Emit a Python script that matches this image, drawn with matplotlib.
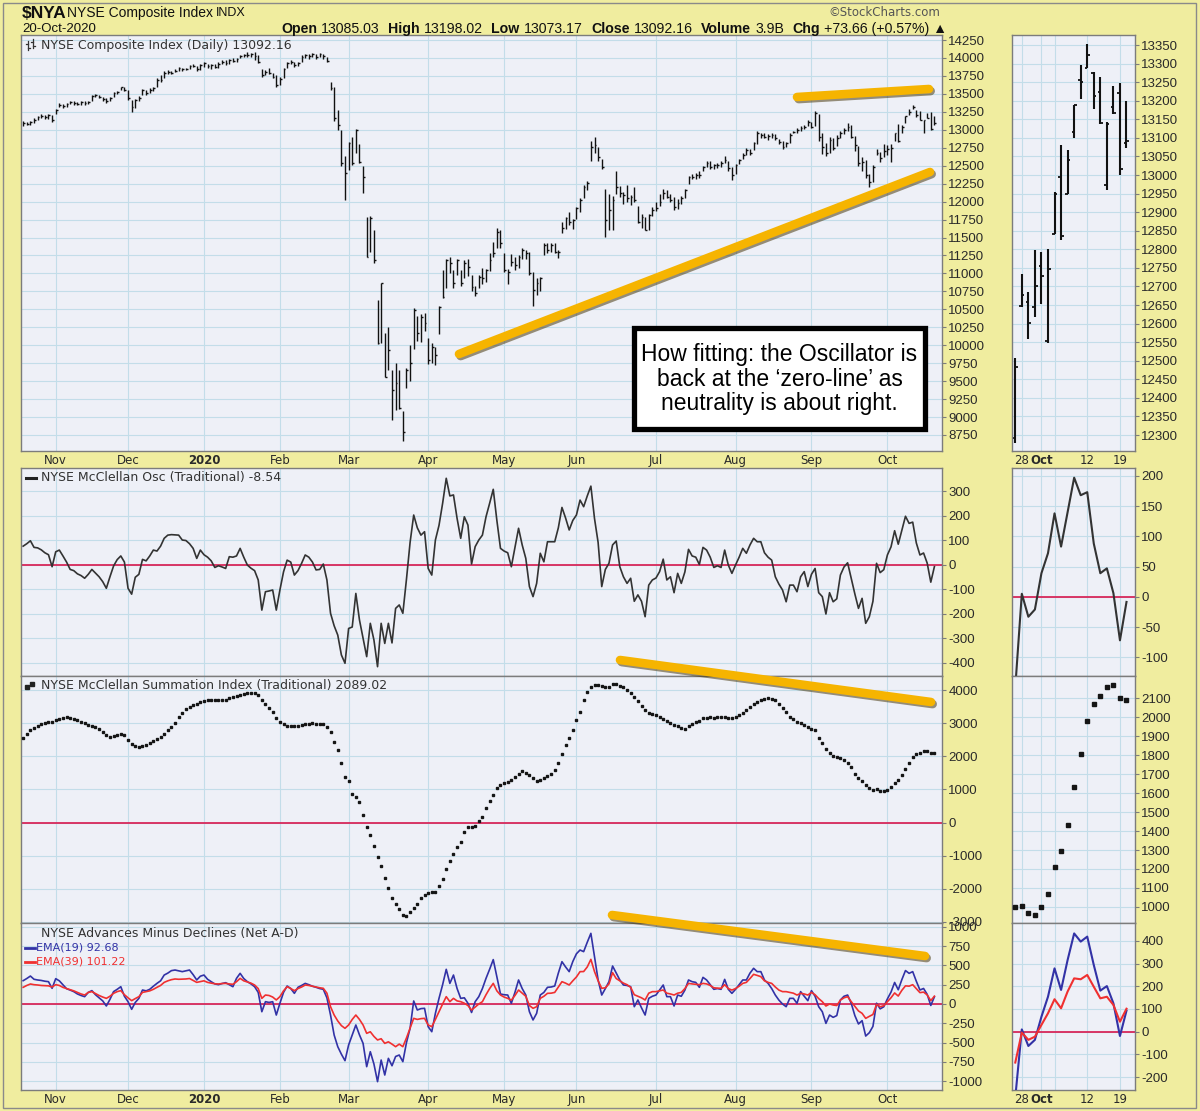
import numpy as np
import pandas as pd
import matplotlib
matplotlib.use('Agg')
import matplotlib.pyplot as plt
import matplotlib.patheffects as pe
from matplotlib.lines import Line2D
from matplotlib.patches import Rectangle
from matplotlib.text import Annotation

# ============================================================
# DATA (one value per session)
# ============================================================
first_day = '2019-10-21'
last_day = '2020-10-20'
nyse_holidays = ['2019-11-28', '2019-12-25', '2020-01-01', '2020-01-20', '2020-02-17',
                 '2020-04-10', '2020-05-25', '2020-07-03', '2020-09-07']

nya_close = [
    13090, 13080, 13110, 13135, 13180, 13190, 13175, 13205, 13140, 13275,
    13345, 13330, 13360, 13390, 13380, 13360, 13390, 13370, 13390, 13470,
    13485, 13460, 13425, 13405, 13440, 13510, 13530, 13590, 13555, 13440,
    13315, 13415, 13440, 13555, 13518, 13555, 13580, 13695, 13695, 13797,
    13810, 13797, 13825, 13857, 13843, 13843, 13890, 13890, 13843, 13903,
    13927, 13890, 13903, 13880, 13917, 13950, 13927, 13973, 13964, 13982,
    14029, 14043, 14043, 14057, 14029, 13950, 13764, 13810, 13787, 13741,
    13625, 13704, 13843, 13927, 13950, 13903, 13936, 14020, 14043, 14029,
    14057, 14020, 14057, 14029, 13964, 13578, 13161, 13068, 12534, 12395,
    12812, 12534, 13000, 12557, 12348, 11234, 11768, 11188, 10027, 10862,
    9563, 9934, 9377, 9470, 9121, 8796, 9655, 9748, 10491, 10166,
    10398, 10305, 9795, 9980, 9864, 10537, 10677, 11188, 11141, 10862,
    11188, 10862, 11141, 11094, 10816, 10723, 10955, 10932, 11048, 11187,
    11280, 11582, 11420, 11048, 11025, 11164, 11118, 11234, 11327, 11280,
    11002, 10770, 10862, 10932, 11396, 11327, 11396, 11303, 11303, 11628,
    11768, 11721, 11744, 11907, 12023, 12209, 12255, 12766, 12789, 12627,
    12487, 11750, 11884, 12023, 12209, 12116, 12093, 12046, 12070, 12023,
    11721, 11791, 11605, 11814, 11884, 11907, 12000, 12116, 12070, 12023,
    11930, 11977, 12046, 12162, 12348, 12348, 12371, 12371, 12487, 12534,
    12487, 12510, 12510, 12534, 12580, 12464, 12371, 12510, 12580, 12650,
    12720, 12673, 12812, 12952, 12928, 12905, 12915, 12928, 12882, 12836,
    12766, 12812, 12928, 12975, 13000, 13021, 13045, 13114, 13045, 13230,
    12905, 12766, 12673, 12860, 12743, 12882, 12952, 13000, 13045, 12905,
    12789, 12534, 12557, 12371, 12278,
    12482, 12677, 12601, 12701, 12727, 12747, 12950, 12837, 13041, 13188,
    13251, 13323, 13212, 13139, 13137, 13166, 13017, 13092.16,
]
nya_high = [
    13120, 13115, 13125, 13160, 13195, 13215, 13200, 13215, 13200, 13290,
    13370, 13360, 13380, 13405, 13395, 13385, 13400, 13395, 13405, 13480,
    13500, 13490, 13460, 13440, 13455, 13520, 13545, 13600, 13590, 13560,
    13420, 13430, 13470, 13565, 13560, 13575, 13600, 13720, 13760, 13815,
    13835, 13820, 13840, 13870, 13865, 13860, 13900, 13915, 13895, 13915,
    13945, 13920, 13915, 13920, 13950, 13970, 13975, 13985, 13995, 14000,
    14040, 14060, 14080, 14070, 14090, 14040, 13840, 13830, 13860, 13790,
    13760, 13740, 13860, 13945, 13965, 13945, 13950, 14040, 14060, 14055,
    14070, 14060, 14075, 14060, 14010, 13660, 13600, 13280, 13000, 12630,
    12830, 12900, 13005, 12800, 12500, 11790, 11800, 11600, 10630, 10870,
    10170, 10250, 9660, 9750, 9660, 9080, 9680, 10000, 10520, 10400,
    10430, 10450, 10100, 10030, 9980, 10550, 11050, 11200, 11230, 11050,
    11200, 11050, 11180, 11200, 10980, 10820, 10980, 11080, 11060, 11280,
    11440, 11630, 11600, 11280, 11060, 11270, 11230, 11260, 11350, 11320,
    11300, 11020, 10930, 10950, 11420, 11430, 11420, 11420, 11320, 11720,
    11790, 11860, 11760, 11920, 12050, 12230, 12290, 12850, 12900, 12760,
    12600, 12180, 12100, 12080, 12420, 12220, 12140, 12230, 12090, 12200,
    11940, 11830, 11790, 11830, 11920, 11990, 12100, 12180, 12160, 12100,
    12060, 12040, 12080, 12180, 12360, 12380, 12400, 12420, 12500, 12560,
    12560, 12530, 12540, 12560, 12640, 12560, 12480, 12530, 12600, 12670,
    12740, 12730, 12830, 12990, 12960, 12950, 12940, 12960, 12940, 12870,
    12850, 12830, 12950, 12985, 13020, 13050, 13060, 13130, 13110, 13260,
    13220, 12950, 12820, 12900, 12890, 12930, 12980, 13020, 13090, 13060,
    12910, 12780, 12620, 12580, 12380,
    12507, 12734, 12684, 12797, 12792, 12801, 12954, 13080, 13068, 13188,
    13296, 13352, 13278, 13263, 13143, 13239, 13247, 13198.02,
]
nya_low = [
    13050, 13060, 13070, 13100, 13130, 13170, 13150, 13150, 13110, 13220,
    13320, 13300, 13320, 13360, 13350, 13340, 13350, 13340, 13360, 13400,
    13460, 13440, 13400, 13380, 13400, 13450, 13500, 13550, 13540, 13420,
    13250, 13310, 13400, 13480, 13490, 13510, 13540, 13600, 13660, 13720,
    13780, 13770, 13800, 13820, 13820, 13830, 13840, 13870, 13820, 13830,
    13880, 13860, 13850, 13860, 13860, 13920, 13900, 13920, 13940, 13950,
    14000, 14010, 14010, 14020, 13970, 13930, 13740, 13760, 13770, 13720,
    13600, 13630, 13720, 13860, 13920, 13880, 13890, 13950, 14000, 13990,
    14010, 13980, 14010, 13990, 13940, 13560, 13120, 13000, 12500, 12020,
    12440, 12510, 12680, 12540, 12120, 11230, 11300, 11150, 10020, 10030,
    9560, 9650, 8960, 9100, 9110, 8660, 9400, 9500, 9950, 10060,
    10050, 10200, 9740, 9750, 9720, 10150, 10660, 10800, 11000, 10800,
    10980, 10830, 10930, 10960, 10760, 10680, 10800, 10850, 10880, 11040,
    11230, 11350, 11350, 11020, 10850, 11100, 11050, 11080, 11200, 11200,
    10980, 10540, 10700, 10760, 11250, 11280, 11300, 11280, 11220, 11560,
    11620, 11680, 11620, 11760, 11860, 12050, 12160, 12560, 12680, 12570,
    12460, 11510, 11600, 11600, 12100, 12060, 11960, 11990, 11950, 11990,
    11700, 11630, 11600, 11610, 11800, 11870, 11940, 12040, 12050, 11990,
    11880, 11900, 11960, 12050, 12250, 12310, 12320, 12330, 12420, 12480,
    12460, 12450, 12470, 12480, 12540, 12430, 12300, 12380, 12520, 12600,
    12650, 12650, 12720, 12800, 12880, 12880, 12860, 12890, 12860, 12800,
    12730, 12760, 12820, 12950, 12960, 12990, 13010, 13050, 13020, 13050,
    12850, 12660, 12640, 12680, 12720, 12780, 12880, 12940, 12980, 12880,
    12700, 12500, 12430, 12330, 12200,
    12279, 12644, 12558, 12617, 12653, 12549, 12842, 12824, 12950, 13101,
    13206, 13287, 13179, 13137, 12959, 13164, 13000, 13073.17,
]
# opens only for the sessions shown in the zoomed side panel (Sep 25 - Oct 20)
nya_open_recent = [12293, 12648, 12659, 12644, 12756, 12552, 12842, 12995, 12950, 13116,
                   13256, 13289, 13275, 13224, 12972, 13182, 13220, 13085.03]

mcclellan_osc = [
    75, 85, 97, 70, 68, 60, 48, 40, -9, 52,
    59, 35, 10, -20, -25, -38, -45, -56, -40, -20,
    -35, -50, -70, -97, -50, -6, 20, 35, 10, -97,
    -121, -52, -40, 21, 15, 35, 59, 55, 75, 107,
    120, 122, 121, 120, 100, 98, 85, 66, 25, 59,
    40, 30, 15, -12, -5, -10, -16, 32, 30, 35,
    66, 30, -2, -15, -25, -63, -186, -111, -108, -104,
    -186, -104, -30, 18, 10, -43, -25, 5, 39, 30,
    10, -22, -20, 2, -63, -199, -250, -288, -369, -403,
    -261, -255, -118, -226, -300, -376, -240, -308, -417, -240,
    -322, -240, -320, -179, -165, -199, -60, 90, 202, 150,
    120, 134, -16, -43, 100, 160, 250, 352, 280,
    284, 188, 107, 195, 161, 2, 73, 100, 120, 195,
    250, 307, 180, 66, 55, 48, -9, 70, 148, 80,
    25, -90, -131, -77, 46, 11, 93, 93, 93, 150,
    233, 190, 141, 180, 202, 263, 236, 280, 320, 188,
    90, -90, -20, 5, 80, 96, -9, -50, -77, -56,
    -150, -124, -150, -213, -84, -63, -55, -29, 22, -63,
    -50, -115, -36, -77, -30, 62, 35, 30, 0, 70,
    59, 30, -12, -5, -12, 59, -2, -36, -2, 30,
    66, 46, 80, 107, 93, 93, 48, 30, 18, -50,
    -80, -104, -152, -84, -84, -111, -50, -29, -90, -40,
    -16, -115, -131, -202, -115, -152, -140, -43, -10, 7,
    -56, -120, -179, -138, -240, -213,
    -150, 5, -33, -21, 39, 72, 138, 83, 140, 197,
    168, 173, 88, 39, 47, 6, -72, -8.54,
]
summation_index = [
    2545, 2680, 2790, 2870, 2930, 2975, 3010, 3030, 3045, 3090,
    3140, 3170, 3180, 3160, 3125, 3090, 3050, 3000, 2950, 2920,
    2880, 2817, 2740, 2650, 2600, 2610, 2650, 2670, 2640, 2500,
    2380, 2310, 2290, 2330, 2360, 2410, 2470, 2530, 2580, 2680,
    2790, 2900, 3020, 3180, 3300, 3420, 3500, 3570, 3600, 3650,
    3690, 3700, 3710, 3705, 3700, 3706, 3720, 3760, 3800, 3830,
    3870, 3900, 3910, 3920, 3928, 3870, 3706, 3580, 3470, 3330,
    3150, 3050, 2980, 2930, 2918, 2915, 2918, 2940, 2970, 2995,
    3000, 2990, 2975, 2969, 2900, 2747, 2450, 2191, 1790, 1390,
    1250, 875, 760, 620, 230, -145, -385, -695, -1050, -1300,
    -1670, -1990, -2280, -2470, -2610, -2790, -2840, -2720, -2580, -2470,
    -2290, -2180, -2130, -2100, -2100, -1920, -1700, -1400, -1150,
    -950, -740, -600, -300, -150, -120, -100, 60, 180, 440,
    650, 830, 1050, 1150, 1200, 1230, 1300, 1380, 1480, 1570,
    1500, 1430, 1350, 1270, 1290, 1350, 1400, 1480, 1600, 1800,
    2080, 2350, 2550, 2800, 3100, 3350, 3700, 3950, 4090, 4150,
    4160, 4120, 4090, 4110, 4191, 4180, 4120, 4090, 4000, 3930,
    3800, 3680, 3540, 3400, 3320, 3280, 3250, 3190, 3130, 3080,
    3010, 2960, 2910, 2860, 2840, 2920, 2990, 3050, 3080, 3150,
    3160, 3180, 3175, 3180, 3185, 3180, 3170, 3150, 3190, 3260,
    3320, 3400, 3490, 3590, 3660, 3720, 3750, 3770, 3750, 3700,
    3600, 3450, 3330, 3200, 3120, 3040, 3000, 2960, 2880, 2830,
    2797, 2560, 2400, 2210, 2100, 2010, 1975, 1940, 1895, 1800,
    1686, 1480, 1340, 1260, 1140, 1060,
    997, 1004, 969, 956, 997, 1070, 1208, 1296, 1431, 1633,
    1806, 1982, 2070, 2112, 2158, 2170, 2100, 2089.02,
]
ad_ema19 = [
    302, 330, 362, 320, 311, 305, 295, 289, 203, 328,
    300, 250, 198, 180, 160, 130, 110, 95, 150, 173,
    120, 80, 40, -26, 60, 160, 190, 224, 100, 30,
    -69, 20, 73, 181, 170, 190, 230, 267, 300, 375,
    400, 432, 440, 430, 419, 430, 440, 380, 311, 360,
    375, 320, 289, 260, 250, 265, 276, 250, 224, 332,
    397, 330, 289, 260, 224, 150, -100, 30, 20, 30,
    -143, 9, 150, 233, 200, 138, 216, 240, 267, 250,
    230, 216, 200, 190, 80, -143, -402, -553, -650, -734,
    -531, -400, -272, -400, -510, -812, -618, -777, -1006, -726,
    -920, -704, -800, -680, -661, -747, -500, -315, 39, -78,
    -60, -56, -294, -359, -121, 73, 250, 449, 267,
    375, 200, 73, 80, 9, -110, 30, 95, 200, 332,
    450, 575, 350, 129, 120, 116, 9, 150, 311, 200,
    116, -100, -207, -121, 116, 150, 216, 220, 233, 400,
    548, 480, 419, 550, 650, 699, 678, 800, 915, 613,
    311, 116, 200, 289, 492, 400, 311, 246, 240, 224,
    -35, 52, -50, -143, 73, 100, 116, 180, 246, 95,
    95, -26, 116, 100, 180, 311, 289, 280, 216, 345,
    311, 250, 190, 200, 190, 319, 190, 138, 190, 250,
    311, 311, 400, 462, 419, 419, 311, 267, 200, 116,
    50, 0, -35, 73, 73, 9, 160, 100, 43, 173,
    100, -35, -100, -251, -143, -173, -150, 52, 100, 116,
    9, -150, -259, -216, -415, -372,
    -290, 10, -63, -36, 66, 154, 279, 184, 316, 433,
    397, 419, 294, 181, 201, 125, -19, 92.68,
]
ad_ema39 = [
    216, 240, 259, 250, 246, 240, 238, 235, 220, 250,
    240, 215, 200, 185, 170, 150, 130, 116, 150, 160,
    135, 110, 90, 73, 100, 138, 160, 173, 120, 80,
    43, 70, 95, 150, 160, 170, 190, 216, 240, 280,
    300, 315, 324, 320, 322, 324, 330, 305, 280, 290,
    300, 280, 270, 262, 259, 265, 267, 260, 255, 289,
    332, 300, 285, 270, 246, 200, 73, 116, 110, 90,
    52, 95, 170, 224, 200, 173, 200, 220, 246, 240,
    230, 220, 210, 203, 140, -35, -143, -220, -280, -315,
    -272, -200, -143, -200, -272, -380, -360, -420, -466, -450,
    -510, -490, -520, -553, -520, -553, -440, -315, -186, -200,
    -190, -186, -272, -294, -200, -100, 0, 95, 30,
    73, 40, 30, 10, -20, -78, -40, 0, 30, 120,
    200, 267, 170, 116, 90, 73, 50, 110, 181, 140,
    100, -20, -56, -35, 73, 100, 138, 140, 150, 220,
    289, 270, 246, 300, 350, 419, 420, 480, 578, 420,
    300, 203, 210, 260, 406, 330, 300, 270, 250, 216,
    120, 100, 80, 52, 140, 160, 160, 170, 181, 140,
    130, 116, 140, 150, 200, 267, 260, 255, 250, 267,
    260, 240, 210, 205, 203, 250, 200, 180, 200, 230,
    267, 280, 330, 384, 370, 354, 300, 280, 267, 220,
    180, 160, 160, 150, 140, 116, 138, 130, 116, 150,
    120, 70, 30, -26, 0, -13, -20, 50, 80, 95,
    30, -30, -90, -121, -186, -160,
    -136, -4, -36, -22, 30, 81, 143, 103, 177, 235,
    231, 250, 198, 147, 154, 118, 44, 101.22,
]

price_ticks = list(range(8750, 14251, 250))
osc_ticks = [300, 200, 100, 0, -100, -200, -300, -400]
summ_ticks = [4000, 3000, 2000, 1000, 0, -1000, -2000, -3000]
ad_ticks = [1000, 750, 500, 250, 0, -250, -500, -750, -1000]
side_price_ticks = list(range(12300, 13351, 50))
side_osc_ticks = [200, 150, 100, 50, 0, -50, -100]
side_summ_ticks = list(range(1000, 2101, 100))
side_ad_ticks = [400, 300, 200, 100, 0, -100, -200]
side_grid_days = ['2020-09-28', '2020-10-01', '2020-10-05', '2020-10-12', '2020-10-19']
side_day_labels = ['28', 'Oct', '', '12', '19']

# ============================================================
# LAYOUT / STYLE
# ============================================================
W, H = 1200, 1111
YELLOW = '#f0ed9f'
PANEL_BG = '#eef0f7'
GRID_C = '#c3dde9'
SPINE_C = '#7c7c7c'
ZERO_C = '#d8285a'
ORANGE = '#f6b400'
TXT = '#2a2a2a'
NUM_FONT = 'Liberation Sans'

plt.rcParams['font.family'] = ['DejaVu Sans']

def fx(x):
    return x / W

def fy(y):
    return 1 - y / H

def px_rect(x0, y0, x1, y1):
    return [x0 / W, 1 - y1 / H, (x1 - x0) / W, (y1 - y0) / H]

dates = pd.bdate_range(first_day, last_day)
dates = dates[~dates.isin(pd.to_datetime(nyse_holidays))]
n = len(dates)
for arr in (nya_close, nya_high, nya_low, mcclellan_osc, summation_index, ad_ema19, ad_ema39):
    assert len(arr) == n, (len(arr), n)
x = np.arange(n)

month_pos = [i for i in range(1, n) if dates[i].month != dates[i - 1].month]
month_lbl = ['2020' if dates[i].month == 1 else dates[i].strftime('%b') for i in month_pos]

recent = dates[-18:]
k = np.arange(len(recent))
side_pos = [int(np.where(recent == pd.Timestamp(d))[0][0]) for d in side_grid_days]

fig = plt.figure(figsize=(W / 100, H / 100), dpi=100, facecolor=YELLOW)

ROWS = {'price': (35, 451), 'osc': (468, 676), 'summ': (676, 923), 'ad': (923, 1090)}
MAIN_X = (21, 942)
SIDE_X = (1012, 1135)


def style_panel(ax, xlim, ylim, yticks, xticks, xlabels=None, bold=()):
    ax.set_facecolor(PANEL_BG)
    ax.set_xlim(*xlim)
    ax.set_ylim(*ylim)
    ax.yaxis.tick_right()
    ax.set_yticks(yticks)
    ax.set_yticklabels([str(t) for t in yticks], fontfamily=NUM_FONT, fontsize=9.5, color=TXT)
    ax.tick_params(axis='y', direction='out', length=3, width=0.8, colors=SPINE_C, pad=1.5,
                   labelcolor=TXT)
    ax.set_xticks(xticks)
    if xlabels is None:
        ax.tick_params(axis='x', length=0, labelbottom=False)
    else:
        ax.set_xticklabels(xlabels, fontsize=8.5, color=TXT)
        ax.tick_params(axis='x', length=0, pad=2)
        for lb in ax.get_xticklabels():
            if lb.get_text() in bold:
                lb.set_fontweight('bold')
    ax.grid(True, color=GRID_C, lw=0.8)
    ax.set_axisbelow(True)
    for s in ax.spines.values():
        s.set_color(SPINE_C)
        s.set_linewidth(1.0)


main_xlim = (-0.6, 254.1)
side_xlim = (-0.5, 18.3)

# ---------------- main price panel ----------------
ax_p = fig.add_axes(px_rect(MAIN_X[0], ROWS['price'][0], MAIN_X[1], ROWS['price'][1]))
style_panel(ax_p, main_xlim, (8527, 14320), price_ticks, month_pos, month_lbl, bold=('2020',))
ax_p.vlines(x, nya_low, nya_high, color='#111111', lw=1.0)
ax_p.hlines(nya_close, x, x + 0.5, color='#111111', lw=1.0)

# ---------------- oscillator ----------------
ax_o = fig.add_axes(px_rect(MAIN_X[0], ROWS['osc'][0], MAIN_X[1], ROWS['osc'][1]))
style_panel(ax_o, main_xlim, (-455, 394), osc_ticks, month_pos)
ax_o.axhline(0, color=ZERO_C, lw=1.3, zorder=2)
ax_o.plot(x, mcclellan_osc, color='#333333', lw=1.2, zorder=3)

# ---------------- summation ----------------
ax_s = fig.add_axes(px_rect(MAIN_X[0], ROWS['summ'][0], MAIN_X[1], ROWS['summ'][1]))
style_panel(ax_s, main_xlim, (-3039, 4433), summ_ticks, month_pos)
ax_s.axhline(0, color=ZERO_C, lw=1.3, zorder=2)
ax_s.plot(x, summation_index, ls='none', marker='s', ms=1.9, color='#151515', zorder=3)

# ---------------- advance / decline ----------------
ax_a = fig.add_axes(px_rect(MAIN_X[0], ROWS['ad'][0], MAIN_X[1], ROWS['ad'][1]))
style_panel(ax_a, main_xlim, (-1114, 1049), ad_ticks, month_pos, month_lbl, bold=('2020',))
ax_a.axhline(0, color=ZERO_C, lw=1.3, zorder=2)
ax_a.plot(x, ad_ema19, color='#3232a6', lw=1.2, zorder=3)
ax_a.plot(x, ad_ema39, color='#f03030', lw=1.2, zorder=4)

# ---------------- side (zoomed) panels ----------------
bp = fig.add_axes(px_rect(SIDE_X[0], ROWS['price'][0], SIDE_X[1], ROWS['price'][1]))
style_panel(bp, side_xlim, (12257, 13377), side_price_ticks, side_pos, side_day_labels, bold=('Oct',))
bp.vlines(k, nya_low[-18:], nya_high[-18:], color='#111111', lw=1.5)
bp.hlines(nya_open_recent, k - 0.4, k, color='#111111', lw=1.3)
bp.hlines(nya_close[-18:], k, k + 0.4, color='#111111', lw=1.3)

bo = fig.add_axes(px_rect(SIDE_X[0], ROWS['osc'][0], SIDE_X[1], ROWS['osc'][1]))
style_panel(bo, side_xlim, (-131, 213), side_osc_ticks, side_pos)
bo.axhline(0, color=ZERO_C, lw=1.3, zorder=2)
bo.plot(k, mcclellan_osc[-18:], color='#333333', lw=1.5, zorder=3)

bs = fig.add_axes(px_rect(SIDE_X[0], ROWS['summ'][0], SIDE_X[1], ROWS['summ'][1]))
style_panel(bs, side_xlim, (915, 2218), side_summ_ticks, side_pos)
bs.plot(k, summation_index[-18:], ls='none', marker='s', ms=2.7, color='#151515', zorder=3)

ba = fig.add_axes(px_rect(SIDE_X[0], ROWS['ad'][0], SIDE_X[1], ROWS['ad'][1]))
style_panel(ba, side_xlim, (-257, 479), side_ad_ticks, side_pos, side_day_labels, bold=('Oct',))
ba.axhline(0, color=ZERO_C, lw=1.3, zorder=2)
ba.plot(k, ad_ema19[-18:], color='#3232a6', lw=1.5, zorder=3)
ba.plot(k, ad_ema39[-18:], color='#f03030', lw=1.5, zorder=4)

# ============================================================
# TEXT: header, panel titles
# ============================================================
HDR = ['Liberation Sans', 'DejaVu Sans']
fig.text(fx(22), fy(13), '$NYA', fontsize=12.5, fontweight='bold', family=HDR, va='center', color='#111')
fig.text(fx(67), fy(13), 'NYSE Composite Index', fontsize=10, family=HDR, va='center', color='#111')
fig.text(fx(216), fy(13), 'INDX', fontsize=9, family=HDR, va='center', color='#111')
fig.text(fx(940), fy(12), '\u00a9StockCharts.com', fontsize=8.5, va='center', ha='right', color='#555')
fig.text(fx(22), fy(29), '20-Oct-2020', fontsize=9.5, family=HDR, va='center', color='#111')

row2 = [('Open', 'bold', 0), ('13085.03', 'normal', 3), ('High', 'bold', 6),
        ('13198.02', 'normal', 3), ('Low', 'bold', 6), ('13073.17', 'normal', 3),
        ('Close', 'bold', 6), ('13092.16', 'normal', 3), ('Volume', 'bold', 6),
        ('3.9B', 'normal', 3), ('Chg', 'bold', 6), ('+73.66 (+0.57%) \u25b2', 'normal', 3)]
prev = fig.text(fx(281), fy(29), row2[0][0], fontsize=10.2, fontweight=row2[0][1], family=HDR,
                va='center', color='#111')
for s, w, gap in row2[1:]:
    ann = Annotation(s, xy=(1, 0.5), xycoords=prev, xytext=(gap, 0), textcoords='offset points',
                     va='center', ha='left', fontsize=10.2, fontweight=w, family=HDR, color='#111')
    fig.add_artist(ann)
    prev = ann

fig.text(fx(41), fy(45), 'NYSE Composite Index (Daily) 13092.16', fontsize=9, color='#333', va='center')
# little OHLC glyph in front of the price title
for gx, gy0, gy1 in [(28, 41, 50), (33, 39, 48)]:
    fig.add_artist(Line2D([fx(gx), fx(gx)], [fy(gy0), fy(gy1)], transform=fig.transFigure,
                          color='#333', lw=0.9))
    fig.add_artist(Line2D([fx(gx - 2), fx(gx)], [fy(gy0 + 3), fy(gy0 + 3)], transform=fig.transFigure,
                          color='#333', lw=0.9))
    fig.add_artist(Line2D([fx(gx), fx(gx + 2)], [fy(gy1 - 2), fy(gy1 - 2)], transform=fig.transFigure,
                          color='#333', lw=0.9))

fig.add_artist(Line2D([fx(26), fx(36)], [fy(478), fy(478)], transform=fig.transFigure, color='#222', lw=2.2))
fig.text(fx(41), fy(478), 'NYSE McClellan Osc (Traditional) -8.54', fontsize=9, color='#333', va='center')

fig.add_artist(Line2D([fx(27), fx(32)], [fy(687), fy(684)], transform=fig.transFigure, ls='none',
                      marker='s', ms=2.2, color='#222'))
fig.text(fx(41), fy(685), 'NYSE McClellan Summation Index (Traditional) 2089.02', fontsize=9,
         color='#333', va='center')

fig.text(fx(41), fy(933), 'NYSE Advances Minus Declines (Net A-D)', fontsize=9, color='#333', va='center')
fig.add_artist(Line2D([fx(25), fx(35)], [fy(948), fy(948)], transform=fig.transFigure, color='#3232a6', lw=2))
fig.text(fx(36), fy(948), 'EMA(19) 92.68', fontsize=8, color='#3232a6', va='center')
fig.add_artist(Line2D([fx(25), fx(35)], [fy(962), fy(962)], transform=fig.transFigure, color='#f03030', lw=2))
fig.text(fx(36), fy(962), 'EMA(39) 101.22', fontsize=8, color='#f03030', va='center')

# ============================================================
# ANNOTATIONS: trend lines and comment box
# ============================================================
trend_lines = [((797, 97), (929, 89)), ((459, 354), (930, 172)),
               ((620, 660), (931, 702)), ((612, 915), (925, 956))]
for (x0, y0), (x1, y1) in trend_lines:
    ln = Line2D([fx(x0), fx(x1)], [fy(y0), fy(y1)], transform=fig.transFigure, color=ORANGE,
                lw=6.2, solid_capstyle='round', zorder=20,
                path_effects=[pe.SimpleLineShadow(offset=(1.2, -1.5), shadow_color='#4a3a10', alpha=0.55),
                              pe.Normal()])
    fig.add_artist(ln)

box = Rectangle((fx(634), fy(429)), (925 - 634) / W, (429 - 328) / H, transform=fig.transFigure,
                facecolor='white', edgecolor='black', lw=3.8, zorder=21)
fig.add_artist(box)
fig.text(fx(779.5), fy(379), 'How fitting: the Oscillator is\nback at the \u2018zero-line\u2019 as\nneutrality is about right.',
         fontsize=16.5, family=HDR, ha='center', va='center', linespacing=1.08, color='black', zorder=22)

# outer frame
fig.add_artist(Rectangle((fx(3), fy(1108)), (1196 - 3) / W, (1108 - 3) / H, transform=fig.transFigure,
                         fill=False, edgecolor='#8a8a8a', lw=1.0, zorder=0))

fig.savefig('out.png', dpi=100, facecolor=YELLOW)
